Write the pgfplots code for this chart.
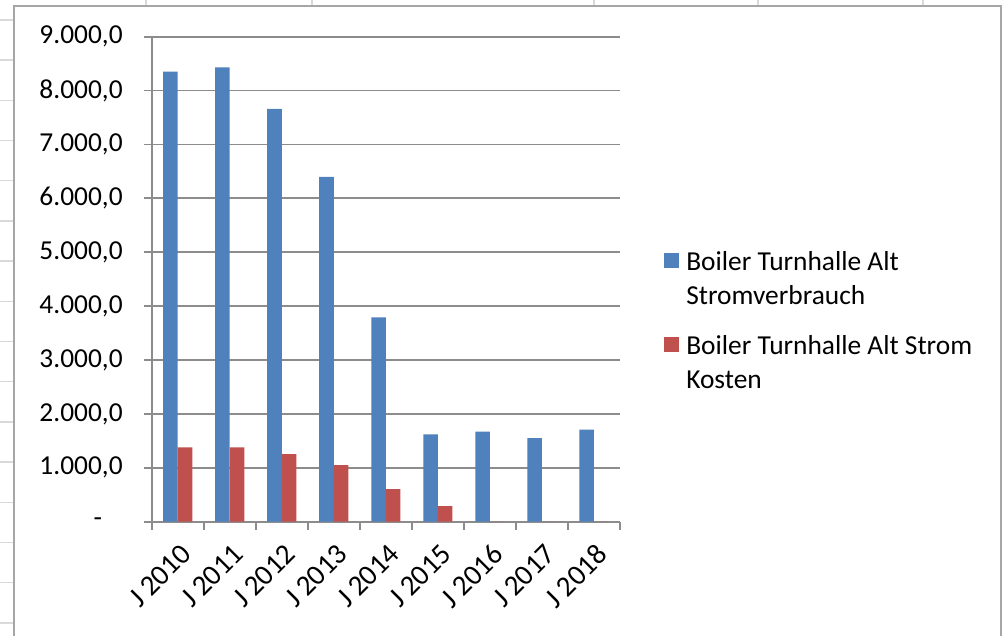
\documentclass[border=0pt]{standalone}
\usepackage{fontspec}
\setmainfont{Carlito}
\usepackage{pgfplots}
\pgfplotsset{compat=1.18}
\definecolor{xlblue}{HTML}{4F81BD}
\definecolor{xlred}{HTML}{C0504D}
\definecolor{xlgrid}{HTML}{8C8C8C}
\definecolor{sheetline}{HTML}{D9D9D9}
\definecolor{framegray}{HTML}{A6A6A6}
\newcommand{\chartfont}{\fontsize{13.7bp}{17bp}\selectfont}

\begin{document}
\begin{tikzpicture}
\useasboundingbox (0bp,0bp) rectangle (501.5bp,318bp);
\fill[white] (0bp,0bp) rectangle (501.5bp,318bp);
% spreadsheet behind the chart
\foreach \k in {0,...,15}
  \draw[sheetline, line width=0.7bp] (0bp,{308bp-20.1bp*\k}) -- (7bp,{308bp-20.1bp*\k});
\foreach \xx in {73,156,297,379,461.5}
  \draw[sheetline, line width=0.7bp] (\xx bp,315bp) -- (\xx bp,318bp);
\draw[framegray, line width=1bp] (7bp,-5bp) -- (7bp,315bp) -- (500.35bp,315bp) -- (500.35bp,-5bp);

\begin{axis}[
  at={(75.85bp,57.15bp)}, anchor=south west,
  scale only axis, width=234.15bp, height=242.5bp,
  xmin=-0.5, xmax=8.5, ymin=0, ymax=9000,
  ybar=0pt, bar width=0.28,
  axis lines*=left,
  axis line style={xlgrid, line width=0.9bp},
  ymajorgrids, grid style={xlgrid, line width=0.9bp},
  tick align=outside, major tick length=4bp,
  tick style={xlgrid, line width=0.9bp},
  ytick={0,1000,...,9000},
  yticklabels={{-\hphantom{0,}},{1.000,0},{2.000,0},{3.000,0},{4.000,0},{5.000,0},{6.000,0},{7.000,0},{8.000,0},{9.000,0}},
  yticklabel style={font=\chartfont, text=black, xshift=-7bp},
  xtick={-0.5,0.5,...,8.5},
  x tick label as interval,
  xticklabels={J 2010,J 2011,J 2012,J 2013,J 2014,J 2015,J 2016,J 2017,J 2018},
  xticklabel style={font=\fontsize{14.5bp}{17bp}\selectfont, text=black, rotate=45, anchor=east, yshift=-10bp, xshift=-0.5bp},
  legend style={draw=none, fill=none, at={(1.081,0.574)}, anchor=north west,
    font=\chartfont, cells={align=left}, row sep=10bp,
    /tikz/every odd column/.append style={column sep=1.5bp}},
  legend cell align=left,
  legend image code/.code={\fill[#1] (0bp,6bp) rectangle (7.5bp,13.5bp);},
]
\addplot[fill=xlblue, draw=none] coordinates {
  (0,8350) (1,8430) (2,7660) (3,6400) (4,3790) (5,1620) (6,1670) (7,1550) (8,1710)};
\addlegendentry{Boiler Turnhalle Alt\\Stromverbrauch}
\addplot[fill=xlred, draw=none] coordinates {
  (0,1380) (1,1380) (2,1255) (3,1050) (4,605) (5,290) (6,0) (7,0) (8,0)};
\addlegendentry{Boiler Turnhalle Alt Strom\\Kosten}
\end{axis}
\end{tikzpicture}
\end{document}
